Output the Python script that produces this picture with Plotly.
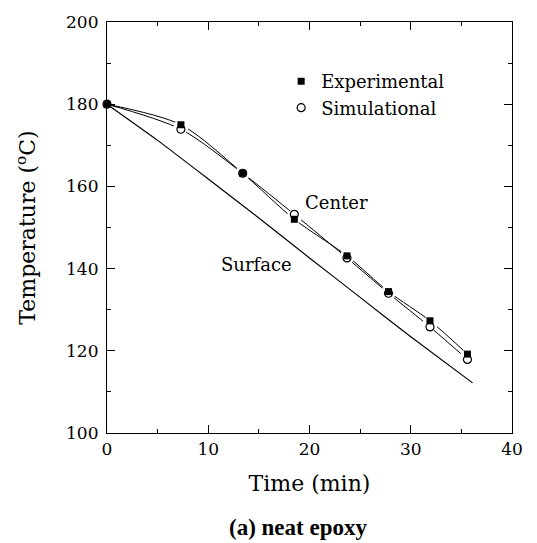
import plotly.graph_objects as go

# Data
exp_t = [0, 7.3, 13.4, 18.5, 23.7, 27.8, 31.9, 35.6]
exp_T = [180, 175.0, 163.2, 152.0, 143.1, 134.4, 127.3, 119.2]
sim_t = [0, 7.3, 13.4, 18.5, 23.7, 27.8, 31.9, 35.6]
sim_T = [180, 173.9, 163.2, 153.2, 142.6, 134.0, 125.8, 117.9]
surf_t = [0, 5, 10, 15, 20, 25, 30, 36.1]
surf_T = [180, 171.2, 161.8, 152.3, 142.6, 133.0, 123.4, 112.2]

x_ticks = [0, 10, 20, 30, 40]
y_ticks = [100, 120, 140, 160, 180, 200]

SERIF = "DejaVu Serif"
fig = go.Figure()

# center curves (experimental fit & simulation)
fig.add_trace(go.Scatter(x=exp_t, y=exp_T, mode="lines", line=dict(color="black", width=1, shape="spline", smoothing=0.8),
                         showlegend=False, hoverinfo="skip"))
fig.add_trace(go.Scatter(x=sim_t, y=sim_T, mode="lines", line=dict(color="black", width=1, shape="spline", smoothing=0.8),
                         showlegend=False, hoverinfo="skip"))
# surface curve
fig.add_trace(go.Scatter(x=surf_t, y=surf_T, mode="lines", line=dict(color="black", width=1.2, shape="spline", smoothing=0.5),
                         showlegend=False, hoverinfo="skip"))
# white halos that break the lines around markers
fig.add_trace(go.Scatter(x=exp_t[1:], y=[(a + b) / 2 for a, b in zip(exp_T[1:], sim_T[1:])], mode="markers",
                         marker=dict(symbol="circle", size=15, color="white"), showlegend=False, hoverinfo="skip"))
# markers
fig.add_trace(go.Scatter(x=sim_t, y=sim_T, mode="markers", name="Simulational", cliponaxis=False,
                         marker=dict(symbol="circle", size=8, color="white", line=dict(color="black", width=1.2))))
fig.add_trace(go.Scatter(x=exp_t, y=exp_T, mode="markers", name="Experimental", cliponaxis=False,
                         marker=dict(symbol="square", size=7, color="black", line=dict(color="black", width=0))))

fig.add_annotation(x=22.7, y=156.0, text="Center", showarrow=False, font=dict(family=SERIF, size=18, color="black"))
fig.add_annotation(x=14.8, y=140.9, text="Surface", showarrow=False, font=dict(family=SERIF, size=18, color="black"))
fig.add_annotation(x=0.472, y=-0.265, xref="paper", yref="paper", text="<b>(a) neat epoxy</b>", showarrow=False,
                   font=dict(family="Liberation Serif", size=23, color="black"))

axis_common = dict(showline=True, linecolor="black", linewidth=1.2, mirror="ticks", ticks="inside",
                   ticklen=8, tickwidth=1, tickcolor="black", showgrid=False, zeroline=False,
                   tickfont=dict(family=SERIF, size=17, color="black"))

fig.update_xaxes(range=[0, 40], tickvals=x_ticks, ticktext=[str(v) for v in x_ticks],
                 minor=dict(tickvals=[5, 15, 25, 35], ticks="inside", ticklen=4, tickcolor="black", showgrid=False),
                 title=dict(text="Time (min)", font=dict(family=SERIF, size=22, color="black"), standoff=18),
                 **axis_common)
fig.update_yaxes(range=[100, 200], tickvals=y_ticks, ticktext=[str(v) for v in y_ticks],
                 minor=dict(tickvals=[110, 130, 150, 170, 190], ticks="inside", ticklen=4, tickcolor="black", showgrid=False),
                 title=dict(text="Temperature (<sup>o</sup>C)", font=dict(family=SERIF, size=22, color="black"), standoff=24),
                 ticklabelstandoff=4,
                 **axis_common)

fig.update_layout(
    width=537, height=543,
    margin=dict(l=107, r=25, t=14, b=110),
    paper_bgcolor="white", plot_bgcolor="white",
    legend=dict(x=0.43, y=0.9, xanchor="left", yanchor="top", traceorder="reversed",
                font=dict(family=SERIF, size=18, color="black"), bgcolor="rgba(0,0,0,0)",
                tracegroupgap=0, itemsizing="trace"),
)

fig.write_html("out.html")
